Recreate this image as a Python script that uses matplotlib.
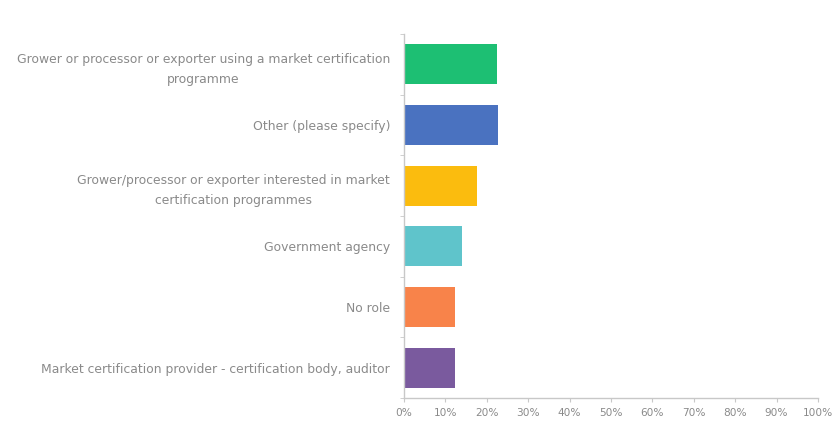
import matplotlib.pyplot as plt
from matplotlib.ticker import PercentFormatter, FixedLocator

# respondent roles, top to bottom
roles = [
    "Grower or processor or exporter using a market certification\nprogramme",
    "Other (please specify)",
    "Grower/processor or exporter interested in market\ncertification programmes",
    "Government agency",
    "No role",
    "Market certification provider - certification body, auditor",
]
shares = [22.5, 22.7, 17.6, 13.9, 12.3, 12.3]
colors = ["#1dbf73", "#4a72c0", "#fbbc0e", "#5fc4cb", "#f8834a", "#7a5a9e"]
xticks = list(range(0, 101, 10))

plt.rcParams['font.family'] = ['DejaVu Sans']

fig = plt.figure(figsize=(8.34, 4.26), dpi=100)
ax = fig.add_axes([0.4844, 0.0657, 0.4964, 0.8543])

pos = list(range(len(roles)))[::-1]
ax.barh(pos, shares, height=0.66, color=colors)

ax.set_xlim(0, 100)
ax.set_ylim(-0.5, len(roles) - 0.5)
ax.set_xticks(xticks)
ax.xaxis.set_major_formatter(PercentFormatter(decimals=0))
ax.set_yticks(pos)
ax.set_yticklabels(roles, ha='right', multialignment='center', linespacing=1.7)
ax.yaxis.set_minor_locator(FixedLocator([p - 0.5 for p in range(len(roles) + 1)]))

ax.tick_params(axis='y', which='major', length=0, pad=10, labelsize=8.9, labelcolor='#8a8a8a')
ax.tick_params(axis='y', which='minor', length=3, color='#c8c8c8')
ax.tick_params(axis='x', length=3, color='#c8c8c8', labelsize=7.6, labelcolor='#8a8a8a', pad=4)

for side in ['top', 'right']:
    ax.spines[side].set_visible(False)
for side in ['left', 'bottom']:
    ax.spines[side].set_color('#c8c8c8')
    ax.spines[side].set_linewidth(1.0)

fig.savefig('out.png', dpi=100)
